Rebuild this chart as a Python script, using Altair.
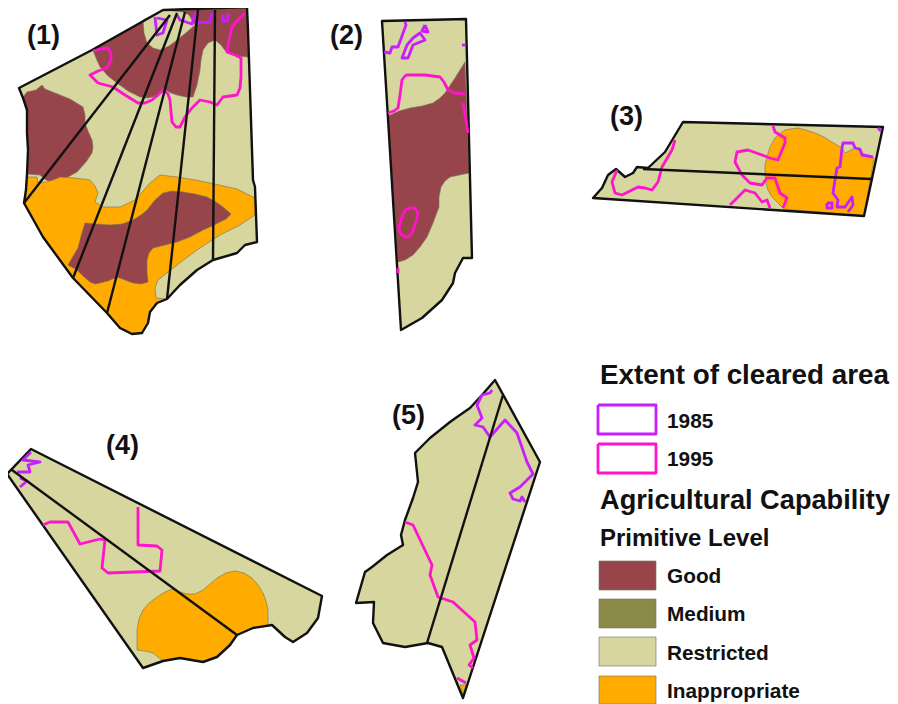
import altair as alt

p1_outline = [(163,10),(247,7),(248,30),(253,180),(255,187),(257,242),(245,245),(237,253),(213,260),(197,270),(180,285),(167,299),(157,303),(150,312),(148,323),(142,333),(132,334),(120,328),(107,313),(73,278),(43,237),(24,203),(26,190),(27,174),(28,150),(27,133),(27,110),(23,98),(19,88),(92,50)]
p1_good_top = [(93,50),(163,10),(247,7),(248,57),(237,56),(227,53),(221,45),(215,40),(208,43),(203,50),(201,60),(200,70),(197,85),(193,97),(186,97),(177,95),(171,93),(165,90),(159,94),(153,97),(147,98),(140,97),(128,91),(117,83),(108,76),(100,67),(96,58)]
p1_patch = [(143,20),(144,33),(147,43),(153,48),(160,50),(169,46),(177,40),(187,32),(195,25),(189,15),(183,12),(163,10)]
p1_good_left = [(23,97),(27,92),(36,90),(42,85),(45,89),(55,93),(70,99),(83,107),(85,115),(85,123),(88,131),(92,140),(93,147),(92,153),(86,162),(77,172),(68,177),(60,180),(52,182),(46,180),(40,175),(27,174),(28,150),(27,133),(27,110)]
p1_orange = [(24,203),(27,177),(37,177),(38,183),(46,182),(53,180),(60,177),(75,178),(90,180),(95,186),(98,193),(95,202),(103,207),(120,207),(135,200),(143,191),(150,183),(160,175),(177,177),(195,180),(210,183),(237,189),(255,198),(255,215),(240,225),(220,235),(197,250),(177,265),(158,280),(155,288),(156,298),(167,299),(157,303),(150,312),(148,323),(142,333),(132,334),(120,328),(107,313),(73,278),(43,237)]
p1_good_mid = [(85,223),(97,224),(110,225),(122,224),(133,220),(141,215),(147,210),(155,200),(163,193),(172,191),(183,192),(195,194),(207,197),(216,202),(223,207),(231,214),(226,219),(220,222),(212,226),(203,230),(190,237),(177,242),(165,245),(153,248),(149,253),(147,260),(147,272),(148,282),(141,284),(133,283),(125,280),(117,277),(108,281),(100,283),(95,284),(90,282),(83,276),(77,270),(68,265),(72,258),(78,248),(81,236)]
p1_lines = [[(24,203),(170,15)],[(73,278),(177,13)],[(107,313),(185,12)],[(167,299),(198,10)],[(213,260),(215,10)]]
p1_1995 = [(93,51),(101,49),(108,48),(111,54),(111,60),(107,68),(98,71),(90,75),(98,83),(113,87),(125,95),(138,103),(145,103),(152,100),(158,95),(163,90),(168,94),(170,100),(171,112),(172,122),(176,127),(180,127),(185,117),(192,108),(200,100),(210,102),(217,105),(223,97),(230,96),(237,95),(240,88),(241,77),(241,58),(235,55),(227,52),(229,40),(232,27),(238,20),(245,13)]
p1_1985 = [[(155,17),(157,35),(163,33),(167,20),(157,18)],[(177,15),(180,20),(192,24),(195,13),(198,23),(210,22),(212,13)],[(223,15),(223,21),(228,21),(228,13)]]

p2_outline = [(382,21),(466,19),(472,258),(463,258),(455,273),(453,283),(442,300),(422,318),(401,330)]
p2_good = [(388,116),(399,111),(410,108),(422,106),(433,103),(440,98),(445,93),(455,78),(465,62),(469,173),(450,177),(445,181),(441,187),(439,197),(439,207),(433,223),(427,237),(420,247),(413,255),(405,260),(398,262)]
p2_1995 = [[(388,113),(394,111),(398,108),(400,95),(402,80),(405,76),(407,75),(425,75),(440,77),(444,82),(448,90),(455,93),(465,94)],[(463,103),(468,133)],[(405,210),(410,208),(415,208),(418,213),(416,222),(412,233),(408,237),(405,237),(400,233),(399,227),(402,217),(405,210)],[(398,268),(398,273)]]
p2_1985 = [[(405,22),(406,25),(398,47),(392,47),(390,53),(384,52)],[(413,38),(420,33),(425,40),(413,45),(408,58),(402,58),(407,45),(413,38)],[(425,25),(428,32),(422,31),(425,25)],[(462,45),(465,45)]]

p3_outline = [(683,122),(883,127),(864,216),(593,198),(602,188),(608,175),(616,169),(625,177),(633,173),(637,167),(648,168),(665,152)]
p3_orange = [(798,128),(790,129),(785,130),(779,134),(775,138),(770,147),(767,157),(765,165),(765,175),(766,183),(768,190),(772,197),(778,203),(784,209),(864,216),(874,158),(862,153),(855,148),(845,153),(842,148),(837,145),(832,142),(824,137),(815,133),(806,130)]
p3_line = [(643,169),(872,179)]
p3_1995 = [[(675,140),(672,150),(662,167),(658,182),(652,190),(645,188),(638,187),(622,195),(615,193),(612,182),(617,170)],[(773,126),(775,132),(785,138),(785,143),(778,160),(770,158),(762,155),(748,150),(737,152),(735,162),(742,175),(750,183),(762,185),(767,178),(775,178),(780,193),(787,198),(783,208)],[(730,205),(745,190),(755,193),(762,202),(767,200),(770,208)]]
p3_1985 = [[(842,148),(843,143),(853,143),(855,148),(860,149),(862,155),(873,157)],[(842,148),(840,167),(837,168),(835,180),(833,193),(838,200),(837,207),(845,207),(852,197),(853,205),(848,212)],[(827,203),(832,203),(832,208),(827,208),(827,203)],[(878,128),(881,131)]]

p4_outline = [(31,449),(322,596),(318,618),(307,633),(293,642),(285,637),(272,625),(253,628),(237,635),(230,645),(217,657),(203,662),(180,658),(163,661),(143,668),(7,474)]
p4_orange = [(172,589),(180,592),(187,594),(195,594),(203,590),(210,584),(217,578),(226,573),(235,571),(244,573),(252,578),(258,585),(263,593),(266,601),(268,610),(268,625),(253,628),(237,635),(230,645),(217,657),(203,662),(180,658),(163,661),(153,653),(145,651),(137,650),(137,638),(137,630),(139,619),(143,610),(149,603),(157,597),(165,592)]
p4_line = [(12,470),(237,635)]
p4_1995 = [[(43,525),(50,522),(68,522),(80,544),(100,539),(105,540),(102,568),(108,573),(160,571),(162,550),(157,546),(138,545),(138,507)]]
p4_1985 = [[(31,452),(23,460),(40,462),(28,465),(30,472),(17,472)],[(20,478),(27,481),(20,487)]]

p5_outline = [(495,380),(540,462),(463,698),(442,647),(428,643),(405,647),(383,643),(373,623),(374,602),(356,603),(365,572),(372,567),(387,555),(403,545),(401,535),(405,520),(413,498),(418,482),(415,453),(430,438),(450,422),(457,417),(470,408),(482,395)]
p5_orange = [(460,685),(466,685),(463,694)]
p5_line = [(427,643),(503,395)]
p5_1995 = [[(405,522),(413,525),(432,565),(430,575),(438,597),(453,602),(475,622),(477,640),(470,645),(474,658),(469,665),(473,668)],[(457,678),(466,683)]]
p5_1985 = [[(492,390),(490,393),(482,395),(477,405),(482,418),(475,425),(483,427),(490,437),(505,420),(517,433),(527,462),(533,474),(520,487),(510,493),(513,499),(520,501),(522,497),(525,502)]]

# ---- legend ----
line_boxes = {"1985": (598,405,656,434), "1995": (598,444,656,473)}
fill_boxes = {"Good": (599,561,656,590), "Medium": (599,599,656,628), "Restricted": (599,637,656,666), "Inappropriate": (599,676,656,704)}
panel_labels = [("(1)",27,44),("(2)",330,44),("(3)",610,125),("(4)",106,454),("(5)",392,424)]
headings = [("Extent of cleared area",600,384,27.8),("Agricultural Capability",600,509,27.2),("Primitive Level",600,546,24)]
item_labels = [("1985",667,428),("1995",667,466),("Good",667,583),("Medium",667,621),("Restricted",667,660),("Inappropriate",667,698)]

classes = ["Good","Medium","Restricted","Inappropriate"]
class_colors = ["#97454b","#8b8b47","#d6d69e","#ffab00"]
years = ["1985","1995"]
year_colors = ["#c81eff","#ff14cc"]


def ring(points):
    pts = [list(p) for p in points]
    if pts[0] != pts[-1]:
        pts.append(pts[0])
    return pts


def poly(points, cls):
    return {"type": "Feature", "geometry": {"type": "Polygon", "coordinates": [ring(points)]}, "properties": {"cls": cls}}


def path(points, cls):
    return {"type": "Feature", "geometry": {"type": "LineString", "coordinates": [list(p) for p in points]}, "properties": {"cls": cls}}


def box(b):
    x0, y0, x1, y1 = b
    return [(x0, y0), (x1, y0), (x1, y1), (x0, y1)]


G, R, O = "Good", "Restricted", "Inappropriate"
fills = [
    poly(p1_outline, R), poly(p1_good_top, G), poly(p1_patch, R), poly(p1_good_left, G), poly(p1_orange, O), poly(p1_good_mid, G),
    poly(p2_outline, R), poly(p2_good, G),
    poly(p3_outline, R), poly(p3_orange, O),
    poly(p4_outline, R), poly(p4_orange, O),
    poly(p5_outline, R), poly(p5_orange, O),
] + [poly(box(b), k) for k, b in fill_boxes.items()]

outlines = [poly(p, "outline") for p in (p1_outline, p2_outline, p3_outline, p4_outline, p5_outline)]
blacks = [path(l, "line") for l in p1_lines + [p3_line, p4_line, p5_line]]
cleared = ([path(l, "1985") for l in p1_1985 + p2_1985 + p3_1985 + p4_1985 + p5_1985]
           + [path(l, "1995") for l in [p1_1995] + p2_1995 + p3_1995 + p4_1995 + p5_1995]
           + [path(ring(box(b)), k) for k, b in line_boxes.items()])

fill_layer = alt.Chart(alt.Data(values=fills)).mark_geoshape(strokeWidth=0.8, stroke="#76765c", strokeOpacity=0.8).encode(
    fill=alt.Fill("properties.cls:N", scale=alt.Scale(domain=classes, range=class_colors), legend=None))
outline_layer = alt.Chart(alt.Data(values=outlines)).mark_geoshape(filled=False, stroke="#111111", strokeWidth=2.4, strokeJoin="round")
black_layer = alt.Chart(alt.Data(values=blacks)).mark_geoshape(filled=False, stroke="#111111", strokeWidth=2.4)
clear_layer = alt.Chart(alt.Data(values=cleared)).mark_geoshape(filled=False, strokeWidth=2.8, strokeJoin="round").encode(
    stroke=alt.Stroke("properties.cls:N", scale=alt.Scale(domain=years, range=year_colors), legend=None))


def text_layer(rows, size):
    data = [{"t": t, "x": x, "y": y} for t, x, y in rows]
    return alt.Chart(alt.Data(values=data)).mark_text(
        font="Liberation Sans", fontWeight="bold", fontSize=size, align="left", baseline="alphabetic", color="#111111"
    ).encode(longitude="x:Q", latitude="y:Q", text="t:N")


texts = [text_layer(panel_labels, 27), text_layer(item_labels, 20.8)]
for t, x, y, s in headings:
    texts.append(text_layer([(t, x, y)], s))

chart = alt.layer(fill_layer, outline_layer, clear_layer, black_layer, *texts).project(
    type="identity", scale=1, translate=[-8, -8]
).properties(
    width=882, height=696, padding=0, autosize=alt.AutoSizeParams(type="none")
).configure_view(stroke=None).configure(background="white")

chart.save("out.html", embed_options={"renderer": "svg", "actions": False})
